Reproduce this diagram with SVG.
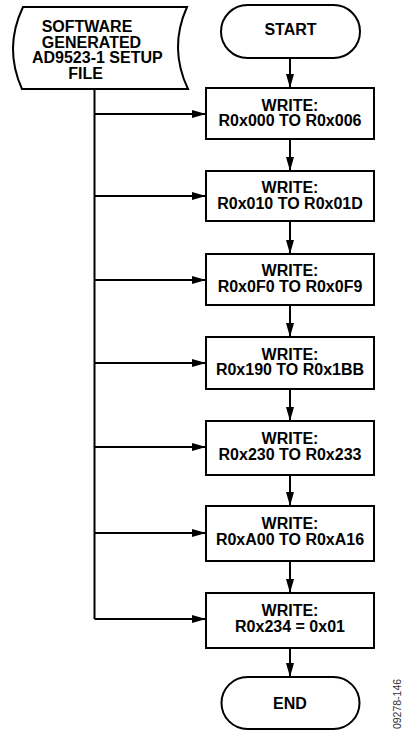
<svg xmlns="http://www.w3.org/2000/svg" width="402" height="732" viewBox="0 0 402 732">
<style>
.s{fill:#fff;stroke:#000;stroke-width:2}
.t{font-family:"Liberation Sans",Arial,sans-serif;font-weight:bold;font-size:16px;fill:#000;text-anchor:middle}
.c{fill:none;stroke:#000;stroke-width:2}
.id{font-family:"Liberation Sans",Arial,sans-serif;font-size:10.5px;fill:#333;text-anchor:middle}
</style>
<defs>
<marker id="ah" markerWidth="14" markerHeight="8" refX="14" refY="4" orient="auto" markerUnits="userSpaceOnUse">
<path d="M0,0 L14,4 L0,8 Z" fill="#000"/>
</marker>
</defs>
<g id="connectors">
<path class="c" d="M94.5,89 V619"/>
<path class="c" d="M94.5,114 H206" marker-end="url(#ah)"/>
<path class="c" d="M94.5,196 H206" marker-end="url(#ah)"/>
<path class="c" d="M94.5,280 H206" marker-end="url(#ah)"/>
<path class="c" d="M94.5,363 H206" marker-end="url(#ah)"/>
<path class="c" d="M94.5,447 H206" marker-end="url(#ah)"/>
<path class="c" d="M94.5,533 H206" marker-end="url(#ah)"/>
<path class="c" d="M94.5,619 H206" marker-end="url(#ah)"/>
<path class="c" d="M290,58 V88" marker-end="url(#ah)"/>
<path class="c" d="M290,139 V171" marker-end="url(#ah)"/>
<path class="c" d="M290,221 V254" marker-end="url(#ah)"/>
<path class="c" d="M290,305 V337" marker-end="url(#ah)"/>
<path class="c" d="M290,389 V421" marker-end="url(#ah)"/>
<path class="c" d="M290,475 V506" marker-end="url(#ah)"/>
<path class="c" d="M290,561 V593" marker-end="url(#ah)"/>
<path class="c" d="M290,648 V677" marker-end="url(#ah)"/>
</g>
<g id="setup-file">
<path class="s" d="M23,7 L187,7 Q168.5,48 188,89 L22,89 Q3.5,48 23,7 Z"/>
<text class="t" x="87" y="32">SOFTWARE</text>
<text class="t" x="91.5" y="47.5">GENERATED</text>
<text class="t" x="97.3" y="63">AD9523-1 SETUP</text>
<text class="t" x="85.5" y="79">FILE</text>
</g>
<g id="start">
<rect class="s" x="221" y="5" width="139" height="53" rx="26.5"/>
<text class="t" x="290.5" y="35">START</text>
</g>
<g id="w1">
<rect class="s" x="206" y="88" width="168" height="51"/>
<text class="t" x="290" y="110.5">WRITE:</text>
<text class="t" x="290" y="126">R0x000 TO R0x006</text>
</g>
<g id="w2">
<rect class="s" x="206" y="171" width="168" height="50"/>
<text class="t" x="290" y="193">WRITE:</text>
<text class="t" x="290" y="209">R0x010 TO R0x01D</text>
</g>
<g id="w3">
<rect class="s" x="206" y="254" width="168" height="51"/>
<text class="t" x="290" y="276">WRITE:</text>
<text class="t" x="290" y="292">R0x0F0 TO R0x0F9</text>
</g>
<g id="w4">
<rect class="s" x="206" y="337" width="168" height="52"/>
<text class="t" x="290" y="359.5">WRITE:</text>
<text class="t" x="290" y="375">R0x190 TO R0x1BB</text>
</g>
<g id="w5">
<rect class="s" x="206" y="421" width="168" height="54"/>
<text class="t" x="290" y="444">WRITE:</text>
<text class="t" x="290" y="460">R0x230 TO R0x233</text>
</g>
<g id="w6">
<rect class="s" x="206" y="506" width="168" height="55"/>
<text class="t" x="290" y="529">WRITE:</text>
<text class="t" x="290" y="545">R0xA00 TO R0xA16</text>
</g>
<g id="w7">
<rect class="s" x="206" y="593" width="168" height="55"/>
<text class="t" x="290" y="616">WRITE:</text>
<text class="t" x="290" y="632">R0x234 = 0x01</text>
</g>
<g id="end">
<rect class="s" x="221.5" y="677" width="138" height="52" rx="26"/>
<text class="t" x="290" y="709">END</text>
</g>
<text class="id" transform="translate(400.5,704) rotate(-90)">09278-146</text>
</svg>
